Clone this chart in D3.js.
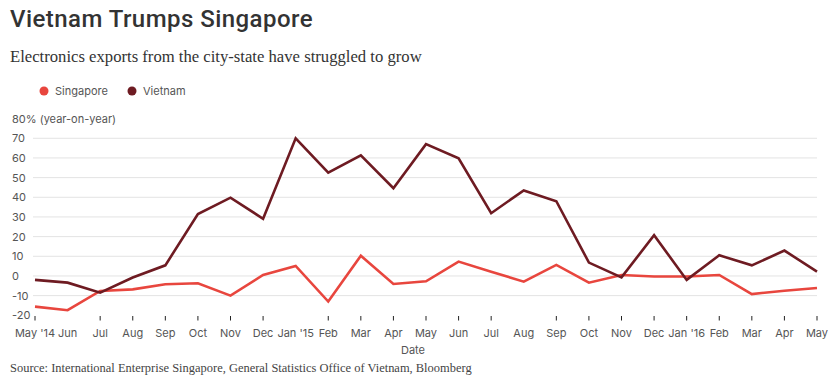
<!DOCTYPE html>
<html><head><meta charset="utf-8">
<script src="https://cdn.jsdelivr.net/npm/d3@7"></script>
<style>body{margin:0;background:#fff}svg{display:block}</style>
</head><body>
<script>
const months = ["May '14","Jun","Jul","Aug","Sep","Oct","Nov","Dec","Jan '15","Feb","Mar","Apr",
  "May","Jun","Jul","Aug","Sep","Oct","Nov","Dec","Jan '16","Feb","Mar","Apr","May"];
const singapore = [-15.6,-17.4,-7.6,-6.8,-4.2,-3.7,-10,0.5,5.1,-13,10.3,-4.1,
  -2.7,7.3,2.2,-2.9,5.6,-3.4,0.5,-0.3,-0.3,0.5,-9.2,-7.5,-6.1];
const vietnam = [-2,-3.4,-8.5,-0.8,5.4,31.5,39.8,29.1,70,52.5,61.3,44.6,
  67,59.8,31.9,43.5,38,6.8,-0.7,20.7,-2,10.5,5.4,12.9,2.2];
const yTicks = [70,60,50,40,30,20,10,0,-10];
const yLabels = [70,60,50,40,30,20,10,0,-10,-20];
const noTick = [1,8,15];

const W=831,H=383;
const svg=d3.select("body").append("svg").attr("width",W).attr("height",H);
const idx=d3.range(months.length);
const x=d3.scalePoint().domain(idx).range([35,817]);
const y=d3.scaleLinear().domain([-20,80]).range([315.3,118.6]);

const sans="'Inter', 'Open Sans', sans-serif";
const serif="'Liberation Serif', 'Times New Roman', serif";

function fit(sel,target){
  const n=sel.node(); const w=n.getComputedTextLength();
  const fs=parseFloat(sel.attr("font-size"));
  sel.attr("font-size",fs*target/w);
}

svg.append("text").attr("x",10).attr("y",27).attr("font-family","Roboto, sans-serif")
  .attr("font-weight",500).attr("font-size",24).attr("letter-spacing",0.45).attr("fill","#333")
  .text("Vietnam Trumps Singapore");
const sub=svg.append("text").attr("x",10).attr("y",62).attr("font-family",serif)
  .attr("font-size",16).attr("fill","#333").text("Electronics exports from the city-state have struggled to grow");
fit(sub,412);

const leg=[{n:"Singapore",c:"#e8463e",x:44},{n:"Vietnam",c:"#6e1b22",x:132}];
leg.forEach(l=>{
  svg.append("circle").attr("cx",l.x).attr("cy",91).attr("r",4.5).attr("fill",l.c);
  svg.append("text").attr("x",l.x+11).attr("y",95).attr("font-family",sans).attr("font-size",11)
    .attr("fill","#555").text(l.n);
});

svg.append("g").selectAll("line").data(yTicks).join("line")
  .attr("x1",33).attr("x2",817).attr("y1",d=>y(d)).attr("y2",d=>y(d))
  .attr("stroke","#e3e3e3").attr("stroke-width",1);

svg.append("g").selectAll("text").data(yLabels).join("text")
  .attr("x",12).attr("y",d=>y(d)+4).attr("font-family",sans).attr("font-size",11).attr("fill","#555")
  .text(d=>d);
svg.append("text").attr("x",12).attr("y",y(80)+4).attr("font-family",sans).attr("font-size",11)
  .attr("fill","#555").text("80% (year-on-year)");

const xa=svg.append("g");
xa.selectAll("line").data(idx.filter(i=>!noTick.includes(i))).join("line")
  .attr("x1",d=>x(d)).attr("x2",d=>x(d)).attr("y1",316).attr("y2",320.5)
  .attr("stroke","#222").attr("stroke-width",1);
xa.selectAll("text").data(idx).join("text")
  .attr("x",d=>x(d)).attr("y",337).attr("text-anchor","middle").attr("font-family",sans)
  .attr("font-size",11).attr("fill","#555").text(d=>months[d]);
svg.append("text").attr("x",413).attr("y",354).attr("text-anchor","middle").attr("font-family",sans)
  .attr("font-size",11).attr("fill","#555").text("Date");

const line=d3.line().x((d,i)=>x(i)).y(d=>y(d));
svg.append("path").datum(singapore).attr("d",line).attr("fill","none").attr("stroke","#e8463e")
  .attr("stroke-width",2.6).attr("stroke-linejoin","miter");
svg.append("path").datum(vietnam).attr("d",line).attr("fill","none").attr("stroke","#6e1b22")
  .attr("stroke-width",2.6).attr("stroke-linejoin","miter");

const src=svg.append("text").attr("x",10).attr("y",372).attr("font-family",serif).attr("font-size",12.5)
  .attr("fill","#444").text("Source: International Enterprise Singapore, General Statistics Office of Vietnam, Bloomberg");
fit(src,462);
</script>
</body></html>
